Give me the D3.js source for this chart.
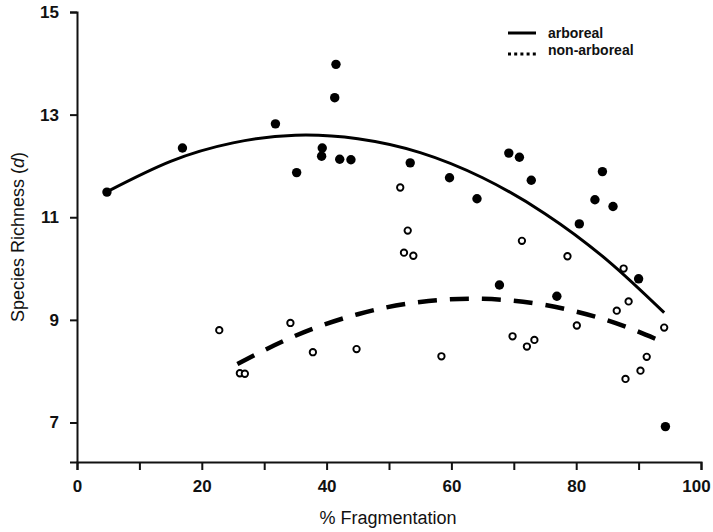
<!DOCTYPE html>
<html>
<head>
<meta charset="utf-8">
<script src="https://cdn.jsdelivr.net/npm/d3@7"></script>
<style>
  body { margin: 0; background: #fff; }
  svg { display: block; font-family: "Liberation Sans", Arial, sans-serif; }
</style>
</head>
<body>
<svg width="713" height="532"></svg>
<script>
// arboreal (filled) points
const arborealX = [4.8, 16.9, 31.8, 35.2, 39.3, 39.2, 41.3, 41.5, 42.1, 43.9, 53.4, 59.7,
                   64.1, 67.7, 69.2, 70.9, 72.8, 76.9, 80.5, 83.0, 84.2, 85.9, 90.0, 94.3];
const arborealY = [11.49, 12.35, 12.82, 11.87, 12.35, 12.19, 13.33, 13.98, 12.13, 12.12, 12.06, 11.77,
                   11.36, 9.68, 12.25, 12.17, 11.72, 9.46, 10.87, 11.34, 11.89, 11.21, 9.80, 6.92];

// non-arboreal (open) points
const nonArborealX = [22.8, 26.1, 26.9, 34.2, 37.8, 44.8, 51.8, 52.4, 53.0, 53.9, 58.4, 69.8,
                      71.3, 72.1, 73.3, 78.6, 80.1, 86.5, 87.6, 87.9, 88.4, 90.3, 91.3, 94.1];
const nonArborealY = [8.80, 7.96, 7.95, 8.94, 8.37, 8.43, 11.58, 10.31, 10.74, 10.25, 8.29, 8.68,
                      10.54, 8.48, 8.61, 10.24, 8.89, 9.18, 10.00, 7.85, 9.36, 8.01, 8.28, 8.85];

// fitted curves
const arborealFitX = [5, 15, 25, 35, 45, 55, 65, 75, 85, 94.1];
const arborealFitY = [11.51, 12.09, 12.45, 12.60, 12.53, 12.26, 11.77, 11.07, 10.16, 9.14];
const nonArborealFitX = [25.7, 35, 45, 55, 65, 75, 85, 93.1];
const nonArborealFitY = [8.14, 8.69, 9.11, 9.35, 9.41, 9.29, 8.99, 8.61];

const xTicks = [0, 10, 20, 30, 40, 50, 60, 70, 80, 90, 100];
const xTickLabels = ["0", "", "20", "", "40", "", "60", "", "80", "", "100"];
const yTicks = [7, 9, 11, 13, 15];

const legendLabels = ["arboreal", "non-arboreal"];

const svg = d3.select("svg");
const marginLeft = 77, marginTop = 12;
const width = 624, height = 450;

const x = d3.scaleLinear().domain([0, 100]).range([marginLeft, marginLeft + width]);
const y = d3.scaleLinear().domain([6.23, 15]).range([marginTop + height, marginTop]);

// axes
const xAxis = svg.append("g")
    .attr("transform", `translate(0, ${marginTop + height})`)
    .call(d3.axisBottom(x).tickValues(xTicks).tickSizeOuter(0).tickSize(8).tickPadding(10)
        .tickFormat((d, i) => xTickLabels[i]));

const yAxis = svg.append("g")
    .attr("transform", `translate(${marginLeft}, 0)`)
    .call(d3.axisLeft(y).tickValues(yTicks).tickSizeOuter(0).tickSize(7).tickPadding(11));

[xAxis, yAxis].forEach(g => {
    g.select(".domain").attr("stroke", "#111").attr("stroke-width", 2);
    g.selectAll(".tick line").attr("stroke", "#111").attr("stroke-width", 2);
    g.selectAll(".tick text")
        .attr("fill", "#111")
        .attr("font-size", 17)
        .attr("font-weight", "bold")
        .attr("font-family", "'Liberation Sans', Arial, sans-serif");
});

// last label sits a bit left so it stays inside the page
xAxis.selectAll(".tick text").filter(d => d === 100).attr("dx", -5);

// axis titles
svg.append("text")
    .attr("x", 388)
    .attr("y", 524)
    .attr("text-anchor", "middle")
    .attr("font-size", 18)
    .attr("fill", "#111")
    .text("% Fragmentation");

const yTitle = svg.append("text")
    .attr("transform", "translate(24, 237) rotate(-90)")
    .attr("text-anchor", "middle")
    .attr("font-size", 18)
    .attr("fill", "#111");
yTitle.append("tspan").text("Species Richness (");
yTitle.append("tspan").attr("font-style", "italic").text("d");
yTitle.append("tspan").text(")");

// fitted curves
const line = d3.line()
    .x(d => x(d[0]))
    .y(d => y(d[1]))
    .curve(d3.curveNatural);

svg.append("path")
    .datum(d3.zip(arborealFitX, arborealFitY))
    .attr("d", line)
    .attr("fill", "none")
    .attr("stroke", "#000")
    .attr("stroke-width", 3);

svg.append("path")
    .datum(d3.zip(nonArborealFitX, nonArborealFitY))
    .attr("d", line)
    .attr("fill", "none")
    .attr("stroke", "#000")
    .attr("stroke-width", 4.5)
    .attr("stroke-dasharray", "19,13");

// points
svg.append("g").selectAll("circle")
    .data(d3.zip(nonArborealX, nonArborealY))
    .enter()
    .append("circle")
    .attr("cx", d => x(d[0]))
    .attr("cy", d => y(d[1]))
    .attr("r", 3.2)
    .attr("fill", "#fff")
    .attr("stroke", "#000")
    .attr("stroke-width", 1.9);

svg.append("g").selectAll("circle")
    .data(d3.zip(arborealX, arborealY))
    .enter()
    .append("circle")
    .attr("cx", d => x(d[0]))
    .attr("cy", d => y(d[1]))
    .attr("r", 4.7)
    .attr("fill", "#000");

// legend
const legend = svg.append("g");
legend.append("line")
    .attr("x1", 508).attr("x2", 536)
    .attr("y1", 33).attr("y2", 33)
    .attr("stroke", "#000").attr("stroke-width", 3);
legend.append("line")
    .attr("x1", 508).attr("x2", 537)
    .attr("y1", 54).attr("y2", 54)
    .attr("stroke", "#000").attr("stroke-width", 3)
    .attr("stroke-dasharray", "3,3.2");
legend.selectAll("text")
    .data(legendLabels)
    .enter()
    .append("text")
    .attr("x", 548)
    .attr("y", (d, i) => 38 + i * 17)
    .attr("font-size", 14)
    .attr("font-weight", "bold")
    .attr("fill", "#111")
    .text(d => d);
</script>
</body>
</html>
